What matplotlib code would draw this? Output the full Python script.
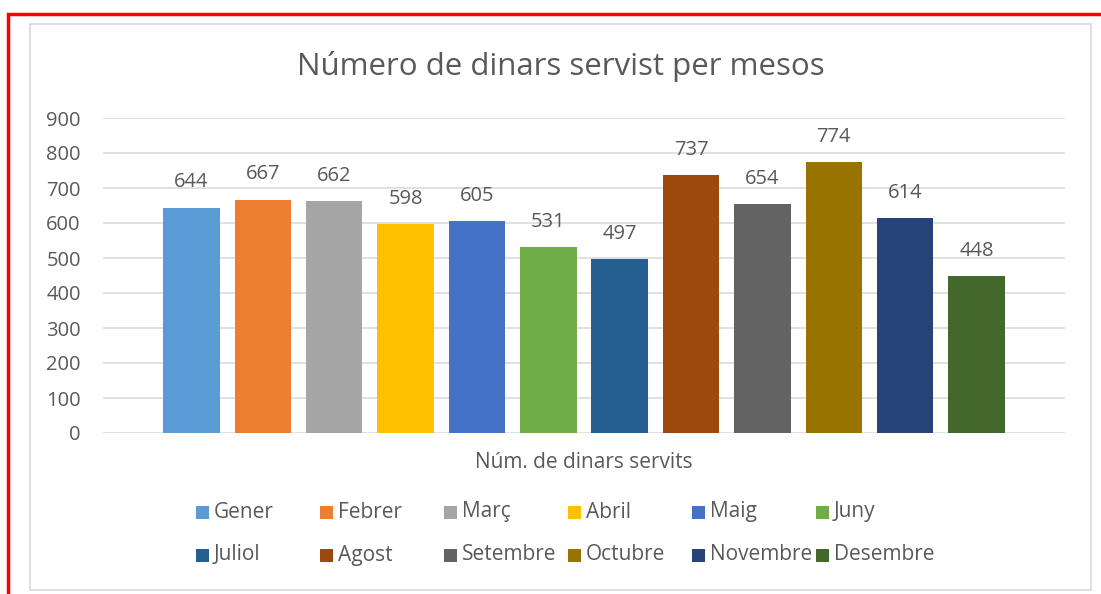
import matplotlib
matplotlib.use("Agg")
import matplotlib.pyplot as plt
from matplotlib.patches import Rectangle

months = ["Gener", "Febrer", "Març", "Abril", "Maig", "Juny",
          "Juliol", "Agost", "Setembre", "Octubre", "Novembre", "Desembre"]
dinars = [644, 667, 662, 598, 605, 531, 497, 737, 654, 774, 614, 448]
colors = ["#5B9BD5", "#ED7D31", "#A5A5A5", "#FFC000", "#4472C4", "#70AD47",
          "#255E91", "#9E480E", "#636363", "#997300", "#264478", "#43682B"]
title = "Número de dinars servist per mesos"
xlabel = "Núm. de dinars servits"

plt.rcParams["font.family"] = ["Open Sans", "DejaVu Sans"]
txt = "#595959"

W, H = 1101, 594
fig = plt.figure(figsize=(W / 100, H / 100), dpi=100)

# red outer frame and gray chart area border
fig.add_artist(Rectangle((8 / W, -0.1), 1.2, 1 - 14 / H + 0.1, transform=fig.transFigure,
                         fill=False, edgecolor="#FF0000", linewidth=2.5))
fig.add_artist(Rectangle((30 / W, 1 - 590 / H), 1061 / W, 566 / H, transform=fig.transFigure,
                         fill=False, edgecolor="#D9D9D9", linewidth=1.2))

ax = fig.add_axes([103 / W, 1 - 433 / H, 962 / W, 315 / H])
x = list(range(len(months)))
bars = ax.bar(x, dinars, width=0.79, color=colors, zorder=3)
for xi, v in zip(x, dinars):
    ax.text(xi, v + 72, str(v), ha="center", va="center", fontsize=14.5, color=txt)

ax.set_ylim(0, 900)
ax.set_xlim(-1.24, 12.24)
ax.set_yticks(range(0, 901, 100))
ax.yaxis.grid(True, color="#D9D9D9", linewidth=1.1, zorder=0)
ax.set_xticks([])
for s in ax.spines.values():
    s.set_visible(False)
ax.tick_params(axis="y", length=0, labelsize=14.5, labelcolor=txt, pad=16)

fig.text(584 / W, 1 - 462 / H, xlabel, ha="center", va="center", fontsize=15, color=txt)
fig.text(561 / W, 1 - 67 / H, title, ha="center", va="center", fontsize=22.5, color=txt)

# legend, two rows of six like the original
for i, (m, c) in enumerate(zip(months, colors)):
    row, col = divmod(i, 6)
    lx = 196 + col * 124
    ly = 512 + row * 43
    fig.add_artist(Rectangle((lx / W, 1 - (ly + 7) / H), 13 / W, 13 / H,
                             transform=fig.transFigure, facecolor=c, edgecolor="none"))
    fig.text((lx + 18) / W, 1 - ly / H, m, ha="left", va="center", fontsize=15, color=txt)

fig.savefig("out.png", dpi=100)
